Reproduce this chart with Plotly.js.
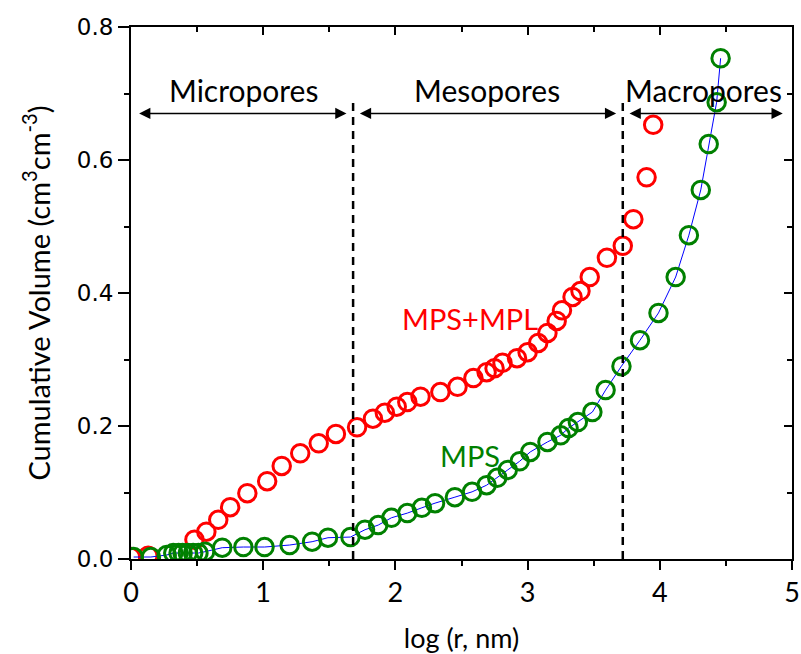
<!DOCTYPE html>
<html>
<head>
<meta charset="utf-8">
<script src="https://cdn.plot.ly/plotly-3.0.1.min.js"></script>
<style>
  html, body { margin: 0; padding: 0; background: #fff; }
  #chart { width: 801px; height: 654px; }
</style>
</head>
<body>
<div id="chart"></div>
<script>
// Cumulative pore volume vs. log pore radius
const mpsMplLogR = [0.00, 0.13, 0.48, 0.57, 0.66, 0.75, 0.88, 1.03, 1.14, 1.28, 1.42, 1.55,
  1.71, 1.83, 1.92, 2.01, 2.09, 2.19, 2.34, 2.47, 2.59, 2.69, 2.75, 2.81, 2.92, 3.00,
  3.08, 3.15, 3.22, 3.26, 3.34, 3.40, 3.47, 3.60, 3.72, 3.80, 3.90, 3.95];
const mpsMplVol = [0.003, 0.005, 0.029, 0.041, 0.059, 0.078, 0.099, 0.117, 0.140, 0.159, 0.174, 0.188,
  0.198, 0.211, 0.220, 0.229, 0.236, 0.244, 0.251, 0.259, 0.272, 0.281, 0.287, 0.295, 0.302, 0.311,
  0.325, 0.340, 0.358, 0.374, 0.394, 0.403, 0.424, 0.453, 0.471, 0.511, 0.574, 0.653];

const mpsLogR = [0.02, 0.15, 0.27, 0.32, 0.36, 0.39, 0.43, 0.47, 0.51, 0.56, 0.69, 0.85,
  1.01, 1.20, 1.37, 1.49, 1.66, 1.77, 1.87, 1.97, 2.09, 2.20, 2.30, 2.45, 2.58, 2.69,
  2.77, 2.85, 2.94, 3.02, 3.15, 3.25, 3.31, 3.38, 3.49, 3.59, 3.71, 3.85, 3.99, 4.12,
  4.22, 4.31, 4.37, 4.43, 4.46];
const mpsVol = [0.003, 0.003, 0.006, 0.009, 0.009, 0.009, 0.009, 0.009, 0.009, 0.011, 0.017, 0.018,
  0.018, 0.021, 0.026, 0.032, 0.033, 0.044, 0.051, 0.062, 0.069, 0.077, 0.084, 0.093, 0.101, 0.111,
  0.122, 0.134, 0.147, 0.161, 0.176, 0.186, 0.197, 0.206, 0.221, 0.254, 0.290, 0.329, 0.370, 0.424,
  0.487, 0.555, 0.624, 0.687, 0.753];

// Pore-size region boundaries and labels
const regionBounds = [1.68, 3.72];
const regionNames = ['Micropores', 'Mesopores', 'Macropores'];
const regionArrowSpans = [[0.05, 1.63], [1.72, 3.67], [3.76, 4.93]];
const regionLabelX = [0.85, 2.69, 4.33];

const xTicks = [0, 1, 2, 3, 4, 5];
const yTicks = [0.0, 0.2, 0.4, 0.6, 0.8];
const yTickText = ['0.0', '0.2', '0.4', '0.6', '0.8'];

const textFont = 'Lato, "Open Sans", sans-serif';

const traces = [
  {
    x: mpsMplLogR, y: mpsMplVol, type: 'scatter', mode: 'markers', name: 'MPS+MPL',
    marker: { symbol: 'circle-open', size: 17.5, color: '#ff0000', line: { width: 3, color: '#ff0000' } }
  },
  {
    x: mpsLogR, y: mpsVol, type: 'scatter', mode: 'lines+markers', name: 'MPS',
    line: { color: '#0000ff', width: 1 },
    marker: { symbol: 'circle-open', size: 17.5, color: '#008000', line: { width: 3, color: '#008000' } }
  },
  // invisible trace carrying the mirrored (inward) ticks on top and right
  { x: [0, 5], y: [0, 0.8], xaxis: 'x2', yaxis: 'y2', mode: 'markers', marker: { opacity: 0 }, hoverinfo: 'skip', showlegend: false }
];

const shapes = regionBounds.map(b => ({
  type: 'line', xref: 'x', yref: 'y', x0: b, x1: b, y0: 0, y1: 0.69,
  line: { color: '#000', width: 2.5, dash: '8px,6px' }
}));

const annotations = [];
regionArrowSpans.forEach(s => {
  annotations.push({
    xref: 'x', yref: 'y', axref: 'x', ayref: 'y',
    x: s[1], y: 0.67, ax: s[0], ay: 0.67,
    showarrow: true, arrowside: 'end+start', arrowhead: 2, arrowsize: 1.5,
    arrowwidth: 1.5, arrowcolor: '#000', text: ''
  });
});
regionNames.forEach((n, i) => {
  annotations.push({
    xref: 'x', yref: 'y', x: regionLabelX[i], y: 0.705, text: n, showarrow: false,
    font: { family: textFont, size: 30, color: '#000' }
  });
});
annotations.push({
  xref: 'x', yref: 'y', x: 2.565, y: 0.362, text: 'MPS+MPL', showarrow: false,
  font: { family: textFont, size: 29, color: '#ff0000' }
});
annotations.push({
  xref: 'x', yref: 'y', x: 2.565, y: 0.156, text: 'MPS', showarrow: false,
  font: { family: textFont, size: 29, color: '#008000' }
});

const layout = {
  width: 801, height: 654,
  margin: { l: 131, r: 9, t: 27, b: 95 },
  paper_bgcolor: '#fff', plot_bgcolor: '#fff',
  showlegend: false,
  xaxis: {
    range: [0, 5], tickvals: xTicks, ticks: 'outside', ticklen: 9, tickwidth: 2, tickcolor: '#000',
    minor: { dtick: 0.5, ticks: 'outside', ticklen: 5, tickwidth: 2, tickcolor: '#000' },
    showline: true, linecolor: '#000', linewidth: 2, showgrid: false, zeroline: false,
    tickfont: { family: textFont, size: 27, color: '#000' },
    title: { text: 'log (r, nm)', font: { family: textFont, size: 27, color: '#000' }, standoff: 22 }
  },
  yaxis: {
    range: [0, 0.8], tickvals: yTicks, ticktext: yTickText, ticks: 'outside', ticklen: 11, tickwidth: 2, tickcolor: '#000',
    minor: { dtick: 0.1, ticks: 'outside', ticklen: 5, tickwidth: 2, tickcolor: '#000' },
    showline: true, linecolor: '#000', linewidth: 2, showgrid: false, zeroline: false,
    tickfont: { family: '"DejaVu Sans", sans-serif', size: 23, color: '#000' },
    title: { text: 'Cumulative Volume (cm<sup>3</sup>cm<sup>-3</sup>)', font: { family: textFont, size: 29, color: '#000' }, standoff: 18 }
  },
  xaxis2: {
    overlaying: 'x', side: 'top', range: [0, 5], dtick: 1, ticks: 'inside', ticklen: 8, tickwidth: 2, tickcolor: '#000',
    minor: { dtick: 0.5, ticks: 'inside', ticklen: 5, tickwidth: 2, tickcolor: '#000' },
    showticklabels: false, showline: true, linecolor: '#000', linewidth: 2, showgrid: false, zeroline: false
  },
  yaxis2: {
    overlaying: 'y', side: 'right', range: [0, 0.8], dtick: 0.2, ticks: 'inside', ticklen: 8, tickwidth: 2, tickcolor: '#000',
    minor: { dtick: 0.1, ticks: 'inside', ticklen: 5, tickwidth: 2, tickcolor: '#000' },
    showticklabels: false, showline: true, linecolor: '#000', linewidth: 2, showgrid: false, zeroline: false
  },
  shapes: shapes,
  annotations: annotations
};

Plotly.newPlot('chart', traces, layout, { displayModeBar: false, staticPlot: true });
</script>
</body>
</html>
